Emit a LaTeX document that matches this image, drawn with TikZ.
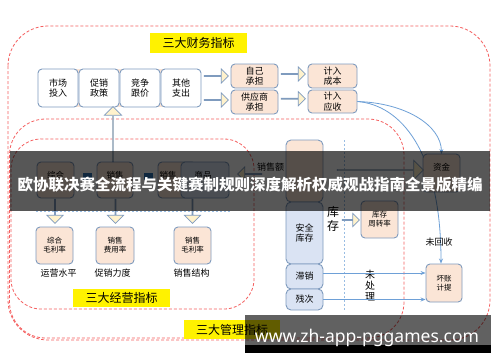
\documentclass[tikz,border=0pt]{standalone}
\usepackage{fontspec}
\usepackage{graphicx}
\newfontfamily\cjk{Noto Sans CJK SC}
\newfontfamily\wmfont{Noto Sans}
\usetikzlibrary{shapes.arrows,arrows.meta,calc}
\definecolor{bord}{RGB}{127,155,190}
\definecolor{peach}{RGB}{251,229,214}
\definecolor{lblue}{RGB}{218,227,243}
\definecolor{afill}{RGB}{255,242,204}
\definecolor{rdash}{RGB}{245,95,95}
\definecolor{cline}{RGB}{110,160,215}
\definecolor{sqblue}{RGB}{46,117,182}
\begin{document}
\begin{tikzpicture}[x=1pt,y=-1pt,
  f9/.style={font=\cjk\fontsize{9}{10.5}\selectfont},
  f85/.style={font=\cjk\fontsize{8.5}{10}\selectfont},
  f75/.style={font=\cjk\fontsize{7.5}{9}\selectfont},
  f12/.style={font=\cjk\fontsize{12}{14}\selectfont},
  box/.style={draw=bord, line width=0.9pt, rounded corners=4pt, inner sep=0pt, align=center},
  wbox/.style={box, fill=white},
  pbox/.style={box, fill=peach},
  bbox/.style={box, fill=lblue},
  region/.style={draw=rdash, dash pattern=on 3pt off 2pt, line width=0.8pt, rounded corners=#1},
  ylab/.style={fill=yellow, inner sep=0pt, minimum width=97pt, minimum height=20pt, f12},
  barrow/.style={single arrow, draw=bord, fill=afill, line width=0.7pt, inner sep=0pt,
    minimum height=#1, minimum width=15pt, single arrow head extend=4pt},
  conn/.style={draw=cline, line width=0.8pt, -{Stealth[length=5pt,width=4pt]}},
  dotl/.style={draw=cline!70, dash pattern=on 2pt off 2pt, line width=0.8pt}]

\useasboundingbox (0,0) rectangle (500,362);
\fill[white] (0,0) rectangle (500,362);

% regions
\draw[region=40pt] (8,26) rectangle (490,340);
\draw[region=36pt] (9.5,119) rectangle (404,338);
\draw[region=30pt] (11,139) rectangle (254,309);

% dotted guide lines
\coordinate (dv1) at (344,140);
\coordinate (dv2) at (344,310);
\draw[dotl] (dv1) -- (dv2);
\coordinate (dh1) at (36,211);
\coordinate (dh2) at (230,211);
\draw[dotl] (dh1) -- (dh2);

% junction wedges on top row
\foreach \x in {78.5,119.5,160.5}{
  \fill[peach] (\x-4,69) rectangle (\x+4,74);
  \fill[peach] (\x-4,102) rectangle (\x+4,107);
}

% top row
\node[wbox, minimum width=40pt, minimum height=38pt, f9] (m1) at (58,88) {市场\\投入};
\node[wbox, minimum width=40pt, minimum height=38pt, f9] (m2) at (99,88) {促销\\政策};
\node[wbox, minimum width=40pt, minimum height=38pt, f9] (m3) at (140,88) {竞争\\跟价};
\node[wbox, minimum width=40pt, minimum height=38pt, f9] (m4) at (181,88) {其他\\支出};

\node[pbox, minimum width=47pt, minimum height=24pt, f9] (z1) at (254.5,76) {自己\\承担};
\node[pbox, minimum width=47pt, minimum height=24pt, f9] (z2) at (254.5,102) {供应商\\承担};
\node[pbox, minimum width=49pt, minimum height=24pt, f9] (j1) at (332.5,76) {计入\\成本};
\node[pbox, minimum width=49pt, minimum height=23pt, f9] (j2) at (332.5,101.5) {计入\\应收};

\node[barrow=24pt, minimum width=14pt] (a1) at ($(m4.east |- z1.west)!0.5!(z1.west)$) {};
\node[barrow=24pt, minimum width=14pt] (a2) at ($(m4.east |- z2.west)!0.5!(z2.west)+(0,-2)$) {};
\node[barrow=24pt, minimum width=14pt] (a3) at ($(z1.east)!0.5!(j1.west)+(0,-2)$) {};
\node[barrow=24pt, minimum width=14pt] (a4) at ($(z2.east)!0.5!(j2.west)+(0,-3)$) {};

% curves from 计入应收
\node[pbox, minimum width=36pt, minimum height=38pt] (hz) at (444,283) {};
\draw[conn] (j2.east) .. controls (400,105) and (441,150) .. ([xshift=-3pt]hz.north);
\draw[conn] (j2.east) .. controls (405,103) and (441,125) .. (441.5,154) coordinate (zjt);

% management column
\node[pbox, minimum width=37pt, minimum height=62pt, rounded corners=5pt] (col1) at (304.5,171) {};
\node[bbox, minimum width=37pt, minimum height=62pt, rounded corners=5pt, f9] (col2) at (304.5,233) {安全\\库存};
\node[bbox, minimum width=37pt, minimum height=25pt, rounded corners=5pt, f9] (col3) at (304.5,276.5) {滞销};
\node[bbox, minimum width=37pt, minimum height=21pt, rounded corners=5pt, f9] (col4) at (304.5,299.5) {残次};

\node[pbox, minimum width=37pt, minimum height=38pt] (zj) at (441.5,173) {};
\node[f85] (zjt) at (441.5,167) {资金};
\node[pbox, minimum width=37pt, minimum height=37pt, f75] (kz) at (379.5,219.5) {库存\\周转率};
\node[f75, align=center] (hzt) at (hz) {坏账\\计提};

\node[font=\cjk\fontsize{12}{14}\selectfont, align=center] (kc) at (333,219) {库\\存};
\node[barrow=17pt, minimum width=13pt, single arrow head extend=3.5pt] (a5) at (350.5,220) {};
\node[barrow=86pt, minimum width=19pt, single arrow head extend=5pt] (a6) at (380,170) {};
\node[barrow=24pt, minimum width=14pt, rotate=180] (a7) at (250,174) {};
\node[f9] (xse) at (270.5,167) {销售额};
\node[f9] (whs) at (439,242) {未回收};
\node[font=\cjk\fontsize{10}{11}\selectfont, align=center] (wcl) at (370,286) {未\\处\\理};

\draw[conn] ([yshift=3.5pt]col3.east) coordinate (s1) -- (s1 -| hz.west);
\draw[conn] (col4.east) -- (col4.east -| hz.west);

% operating middle row
\node[pbox, minimum width=37pt, minimum height=36pt] (k1) at (55.5,180) {};
\node[pbox, minimum width=36pt, minimum height=36pt] (k2) at (115,180) {};
\node[pbox, minimum width=38pt, minimum height=36pt] (k3) at (177,180) {};
\node[bbox, minimum width=48pt, minimum height=36pt] (k4) at (205,180) {};
\node[f85] (k1t) at (55.5,175) {综合};
\node[f85] (k2t) at (115,175) {销售};
\node[f85] (k3t) at (168,175) {销售};
\node[f85] (k4t) at (203,175) {商品};
\node[fill=sqblue, minimum width=9pt, minimum height=7pt, inner sep=0pt] (sq1) at (87.5,176.5) {};
\node[fill=sqblue, minimum width=9pt, minimum height=7pt, inner sep=0pt] (sq2) at (148.5,176.5) {};

\node[barrow=55pt, minimum width=17pt, single arrow head extend=4.5pt, rotate=90] (up) at (113,134.5) {};

% bottom row
\node[pbox, minimum width=37pt, minimum height=37pt, f75] (b1) at (54.5,245.5) {综合\\毛利率};
\node[pbox, minimum width=38pt, minimum height=37pt, f75] (b2) at (115,245.5) {销售\\费用率};
\node[pbox, minimum width=37pt, minimum height=37pt, f75] (b3) at (192.5,245.5) {销售\\毛利率};
\node[barrow=24pt, minimum width=16pt, single arrow head extend=4.5pt, rotate=-90] (d1) at (55,211) {};
\node[barrow=24pt, minimum width=16pt, single arrow head extend=4.5pt, rotate=-90] (d2) at (115.5,211) {};
\node[barrow=24pt, minimum width=16pt, single arrow head extend=4.5pt, rotate=-90] (d3) at (192.5,211) {};
\node[f9] (c1) at (58.5,273) {运营水平};
\node[f9] (c2) at (112.5,273) {促销力度};
\node[f9] (c3) at (191.5,273) {销售结构};

% labels
\node[ylab] (L1) at (198.5,43) {三大财务指标};
\node[ylab, minimum height=18pt] (L2) at (121.5,298) {三大经营指标};
\node[ylab, minimum width=96pt, minimum height=19pt] (L3) at (232,329.5) {三大管理指标};

% banner
\fill[black, opacity=0.66] (10,151) rectangle (490,211);
\node[font=\cjk\bfseries\fontsize{15.5}{17}\selectfont, text=white, inner sep=0pt] (ban) at (250,184.5) {欧协联决赛全流程与关键赛制规则深度解析权威观战指南全景版精编};

% watermark
\fill[black, opacity=0.62] (245,315) rectangle (491,345);
\fill[black] (245,345) rectangle (491,353);
\node[text=white, font=\wmfont\bfseries\fontsize{16.5}{18}\selectfont, anchor=base, inner sep=0pt] (wm) at (367,342) {\resizebox{224pt}{!}{www.zh-app-pggames.com}};
\end{tikzpicture}
\end{document}
